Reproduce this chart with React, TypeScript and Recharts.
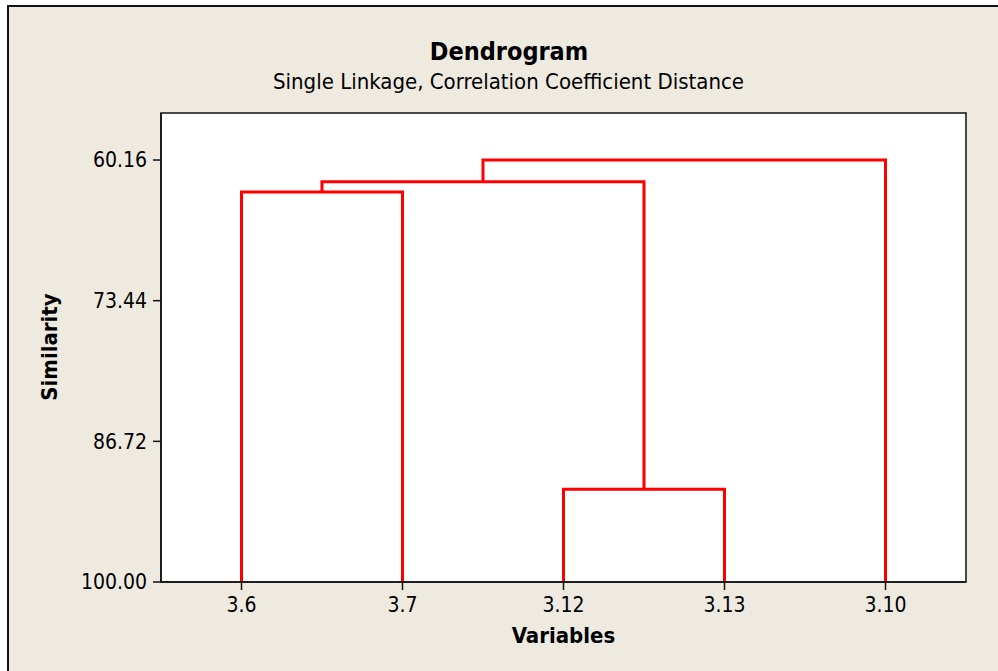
import React from 'react';
import { LineChart, Line, XAxis, YAxis, CartesianGrid, ReferenceArea } from 'recharts';

// leaves in the order they appear along the x axis
const leafLabels = ['3.6', '3.7', '3.12', '3.13', '3.10'];

// merge steps: clusters 0..4 are leaves, step i creates cluster 5 + i
const mergeLeft = [2, 0, 6, 7];
const mergeRight = [3, 1, 5, 4];
const mergeSimilarity = [91.25, 63.18, 62.21, 60.16];

const yTicks = [60.16, 73.44, 86.72, 100.0];
const yDomain = [55.72, 100];

const FONT = '"DejaVu Sans Condensed", "DejaVu Sans", sans-serif';
const RED = '#ff0000';
const INK = '#111';

// Build one U-shaped link per merge from the tables above
const buildLinks = () => {
    const nodeX: number[] = leafLabels.map((_, i) => i + 1);
    const nodeY: number[] = leafLabels.map(() => 100);
    return mergeSimilarity.map((h, i) => {
        const l = mergeLeft[i];
        const r = mergeRight[i];
        nodeX.push((nodeX[l] + nodeX[r]) / 2);
        nodeY.push(h);
        return [
            { x: nodeX[l], y: nodeY[l] },
            { x: nodeX[l], y: h },
            { x: nodeX[r], y: h },
            { x: nodeX[r], y: nodeY[r] }
        ];
    });
};

const links = buildLinks();

export default function App() {
    return (
        <div style={{ position: 'absolute', left: 0, top: 0, width: 998, height: 671, overflow: 'hidden', background: '#fff', fontFamily: FONT }}>
            {/* Frame */}
            <div style={{ position: 'absolute', left: 7, top: 5, width: 1100, height: 800, background: '#eeeae0', border: `2px solid ${INK}` }} />

            {/* Titles */}
            <div style={{ position: 'absolute', left: 0, width: 1018, top: 37, textAlign: 'center', fontSize: 25, fontWeight: 'bold', color: '#000' }}>
                Dendrogram
            </div>
            <div style={{ position: 'absolute', left: 0, width: 1017, top: 69, textAlign: 'center', fontSize: 22, color: '#000' }}>
                Single Linkage, Correlation Coefficient Distance
            </div>

            {/* Chart */}
            <div style={{ position: 'absolute', left: 0, top: 0 }}>
                <LineChart width={998} height={671} margin={{ top: 113, right: 32, bottom: 19, left: 0 }}>
                    <CartesianGrid horizontal={false} vertical={false} fill="#fff" />
                    <ReferenceArea x1={0.5} x2={5.5} y1={yDomain[0]} y2={yDomain[1]} fill="none" stroke={INK} strokeWidth={1.5} />
                    <XAxis
                        type="number"
                        dataKey="x"
                        domain={[0.5, 5.5]}
                        ticks={[1, 2, 3, 4, 5]}
                        tickFormatter={(v: number) => leafLabels[v - 1]}
                        height={70}
                        tickSize={8}
                        tickMargin={7}
                        allowDataOverflow
                        tick={{ fontSize: 21, fill: '#000', fontFamily: FONT }}
                        axisLine={{ stroke: INK, strokeWidth: 1.5 }}
                        tickLine={{ stroke: INK, strokeWidth: 1.5 }}
                        label={{ value: 'Variables', position: 'insideBottom', offset: 9, fontSize: 22, fontWeight: 'bold', fill: '#000', fontFamily: FONT }}
                    />
                    <YAxis
                        type="number"
                        dataKey="y"
                        domain={yDomain}
                        ticks={yTicks}
                        reversed
                        allowDataOverflow
                        width={161}
                        tickSize={8}
                        tickMargin={6}
                        tickFormatter={(v: number) => v.toFixed(2)}
                        tick={{ fontSize: 21, fill: '#000', fontFamily: FONT }}
                        axisLine={{ stroke: INK, strokeWidth: 1.5 }}
                        tickLine={{ stroke: INK, strokeWidth: 1.5 }}
                    />
                    {links.map((pts, i) => (
                        <Line
                            key={i}
                            data={pts}
                            dataKey="y"
                            type="linear"
                            stroke={RED}
                            strokeWidth={3}
                            dot={false}
                            activeDot={false}
                            isAnimationActive={false}
                        />
                    ))}
                </LineChart>
            </div>

            {/* Y axis title */}
            <div style={{ position: 'absolute', left: -50, top: 332, width: 200, height: 30, lineHeight: '30px', textAlign: 'center', fontSize: 22, fontWeight: 'bold', color: '#000', transform: 'rotate(-90deg)' }}>
                Similarity
            </div>
        </div>
    );
}
